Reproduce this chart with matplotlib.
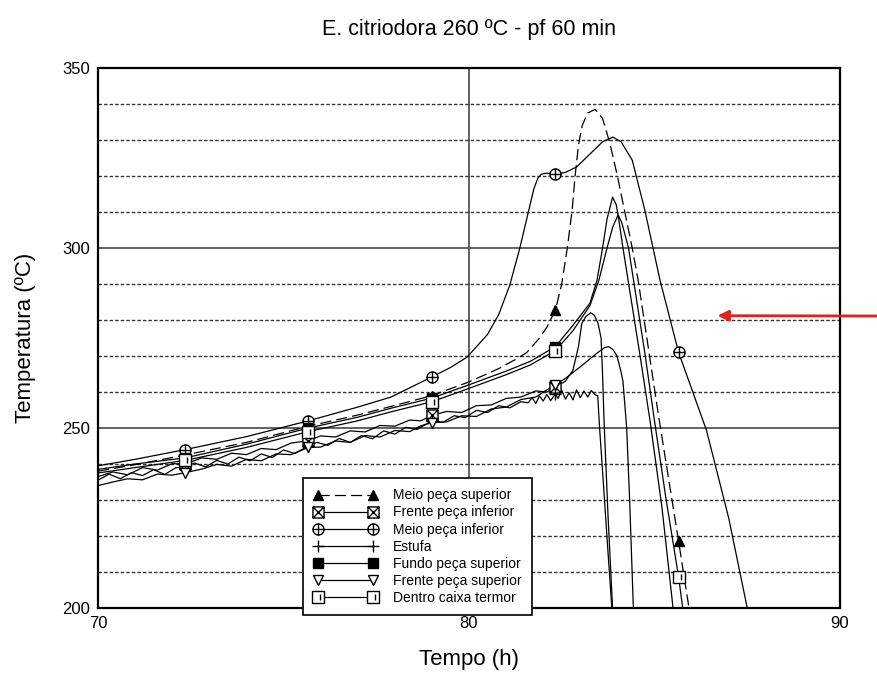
import numpy as np
import matplotlib
matplotlib.use('Agg')
import matplotlib.pyplot as plt
from matplotlib.path import Path
from matplotlib.lines import Line2D

plt.rcParams['font.family'] = ['Liberation Sans', 'DejaVu Sans']

TITLE = "E. citriodora 260 ºC - pf 60 min"
XLABEL = "Tempo (h)"
YLABEL = "Temperatura (ºC)"
X_TICKS = [70, 80, 90]
Y_TICKS = [200, 250, 300, 350]
MARK_H = [72.35, 75.67, 79.0, 82.33, 85.65]

# Meio peça superior (dashed, filled triangle)
meio_sup_h = [70.0, 71.0, 72.35, 74.0, 75.67, 77.0, 77.9, 79.0, 80.0, 80.8, 81.3, 81.56, 81.9, 82.1,
              82.33, 82.5, 82.65, 82.78, 82.86, 82.95, 83.05, 83.2, 83.4, 83.6, 83.8, 84.0, 84.2, 84.4,
              84.56, 85.1, 85.65, 85.93]
meio_sup_t = [238.0, 239.8, 242.5, 246.0, 250.5, 253.6, 256.0, 259.0, 262.8, 266.5, 269.3, 271.0, 275.0,
              278.0, 282.8, 290.0, 300.0, 310.5, 320.0, 328.5, 334.0, 337.5, 338.5, 336.0, 329.0, 320.0,
              310.0, 300.0, 291.0, 254.0, 218.5, 200.0]

# Frente peça inferior (box with X)
frente_inf_h = [70.0, 70.4, 70.8, 71.2, 71.6, 72.0, 72.35, 72.8, 73.2, 73.6, 74.0, 74.4, 74.8, 75.2,
                75.67, 76.0, 76.4, 76.8, 77.2, 77.6, 78.0, 78.4, 78.7, 79.0, 79.4, 79.8, 80.2, 80.6,
                81.0, 81.4, 81.8, 82.1, 82.33, 82.6, 82.8, 82.95, 83.04, 83.15, 83.28, 83.38, 83.48,
                83.56, 83.6, 83.64, 83.75, 83.87]
frente_inf_t = [236.5, 237.8, 237.0, 239.0, 238.3, 240.1, 240.0, 241.7, 241.3, 243.0, 242.6, 244.3,
                244.0, 245.8, 246.5, 247.8, 247.5, 249.2, 248.9, 250.7, 250.5, 252.2, 252.0, 253.5,
                254.6, 254.3, 256.2, 256.4, 258.2, 258.6, 260.3, 260.0, 261.4, 263.0, 266.0, 272.6,
                279.0, 281.0, 282.0, 281.3, 279.0, 275.0, 265.0, 252.0, 225.0, 200.0]

# Meio peça inferior (circle with cross)
meio_inf_h = [70.0, 71.0, 72.35, 74.0, 75.67, 77.0, 77.9, 79.0, 79.5, 79.95, 80.5, 80.8, 81.1, 81.37,
              81.6, 81.75, 81.86, 81.95, 82.1, 82.33, 82.6, 82.9, 83.3, 83.6, 83.88, 84.1, 84.4, 84.74,
              84.96, 85.15, 85.65, 86.4, 87.0, 87.5]
meio_inf_t = [239.5, 241.3, 244.0, 247.6, 252.0, 255.8, 258.6, 264.2, 266.8, 269.7, 276.0, 281.5, 289.7,
              300.0, 310.0, 316.5, 319.5, 320.5, 320.8, 320.5, 321.0, 322.5, 326.5, 329.5, 330.8, 329.5,
              324.4, 310.5, 300.0, 291.0, 271.0, 249.4, 225.0, 200.0]

# Estufa (plus)
estufa_h = [70.0, 70.3, 70.6, 70.9, 71.2, 71.5, 71.8, 72.1, 72.35, 72.6, 72.9, 73.2, 73.5, 73.8, 74.1,
            74.4, 74.7, 75.0, 75.3, 75.67, 75.9, 76.2, 76.5, 76.8, 77.1, 77.4, 77.7, 78.0, 78.3, 78.6,
            79.0, 79.3, 79.6, 79.9, 80.2, 80.5, 80.8, 81.1, 81.4, 81.6, 81.7, 81.8, 81.9, 82.0, 82.1,
            82.2, 82.33, 82.4, 82.5, 82.6, 82.7, 82.8, 82.9, 83.0, 83.1, 83.2, 83.3, 83.4, 83.47,
            83.52, 83.62, 83.75, 83.85]
estufa_t = [235.5, 237.2, 235.9, 237.6, 236.8, 238.4, 237.1, 239.0, 239.0, 240.3, 239.2, 241.0, 240.0,
            241.9, 240.9, 242.8, 241.8, 243.9, 242.9, 245.0, 246.0, 245.2, 247.1, 246.0, 247.9, 247.0,
            249.2, 248.3, 250.2, 249.6, 252.0, 251.6, 253.4, 252.9, 254.9, 254.3, 256.2, 255.6, 257.3,
            257.0, 258.5, 256.8, 258.9, 257.5, 259.3, 257.6, 259.5, 258.2, 260.5, 258.0, 259.8, 257.8,
            260.6, 258.4, 260.3, 258.6, 260.4, 259.2, 259.0, 250.0, 235.0, 215.0, 200.0]

# Fundo peça superior (filled square)
fundo_sup_h = [70.0, 71.0, 72.35, 74.0, 75.67, 77.0, 77.9, 79.0, 80.0, 81.0, 81.65, 82.33, 82.8, 83.26,
               83.45, 83.6, 83.72, 83.87, 83.97, 84.05, 84.15, 84.6, 84.88, 85.2, 85.5]
fundo_sup_t = [238.5, 240.0, 241.7, 245.5, 250.0, 253.0, 255.5, 258.3, 262.0, 265.8, 268.5, 272.6, 278.5,
               284.7, 291.0, 300.0, 308.0, 314.1, 312.0, 307.0, 300.0, 270.8, 252.0, 228.0, 200.0]

# Frente peça superior (open down triangle)
frente_sup_h = [70.0, 70.4, 70.8, 71.2, 71.6, 72.0, 72.35, 72.8, 73.2, 73.6, 74.0, 74.4, 74.8, 75.2,
                75.67, 76.0, 76.4, 76.8, 77.2, 77.6, 78.0, 78.4, 78.7, 79.0, 79.4, 79.8, 80.2, 80.6,
                81.0, 81.4, 81.8, 82.1, 82.33, 82.6, 83.0, 83.45, 83.65, 83.76, 83.88, 83.99, 84.1,
                84.15, 84.25, 84.33, 84.43]
frente_sup_t = [234.0, 235.0, 235.9, 235.6, 237.2, 236.9, 237.6, 238.6, 239.9, 239.4, 241.3, 240.9,
                242.8, 242.6, 244.6, 244.7, 246.4, 246.0, 247.9, 247.5, 249.3, 249.0, 250.6, 251.5,
                251.7, 253.4, 253.2, 255.3, 255.8, 257.9, 258.6, 260.6, 262.0, 263.8, 267.0, 270.8,
                272.3, 272.6, 271.8, 270.0, 265.5, 263.0, 250.0, 230.0, 200.0]

# Dentro caixa termor (box with inner bar)
caixa_h = [70.0, 71.0, 72.35, 74.0, 75.67, 77.0, 77.9, 79.0, 80.0, 81.0, 81.65, 82.33, 82.8, 83.26,
           83.5, 83.72, 83.88, 84.02, 84.12, 84.3, 84.74, 85.0, 85.3, 85.65, 85.76]
caixa_t = [237.5, 239.0, 241.0, 244.6, 249.0, 252.0, 254.5, 257.3, 261.0, 264.8, 267.5, 271.5, 277.0,
           284.0, 291.0, 300.0, 306.0, 309.2, 307.0, 300.0, 270.8, 252.0, 231.0, 208.6, 200.0]

# ---- custom marker shapes ----
M, L, C = Path.MOVETO, Path.LINETO, Path.CLOSEPOLY
sq = [(-1, -1), (1, -1), (1, 1), (-1, 1), (-1, -1)]
box_x = Path(sq + [(-1, -1), (1, 1), (-1, 1), (1, -1)], [M, L, L, L, C, M, L, M, L])
box_bar = Path(sq + [(0.35, -0.55), (0.35, 0.55)], [M, L, L, L, C, M, L])
circ_plus = Path.make_compound_path(Path.unit_circle(), Path([(-1, 0), (1, 0)]), Path([(0, -1), (0, 1)]))

series = [
    ("Meio peça superior", meio_sup_h, meio_sup_t, dict(marker='^', ms=7, mfc='black', ls=(0, (9, 4)))),
    ("Frente peça inferior", frente_inf_h, frente_inf_t, dict(marker=box_x, ms=8, mfc='white', ls='-')),
    ("Meio peça inferior", meio_inf_h, meio_inf_t, dict(marker=circ_plus, ms=8, mfc='white', ls='-')),
    ("Estufa", estufa_h, estufa_t, dict(marker='+', ms=9, mfc='black', ls='-')),
    ("Fundo peça superior", fundo_sup_h, fundo_sup_t, dict(marker='s', ms=7, mfc='black', ls='-')),
    ("Frente peça superior", frente_sup_h, frente_sup_t, dict(marker='v', ms=7, mfc='white', ls='-')),
    ("Dentro caixa termor", caixa_h, caixa_t, dict(marker=box_bar, ms=8, mfc='white', ls='-')),
]

W, H = 877, 681
fig = plt.figure(figsize=(W / 100, H / 100), dpi=100)
ax = fig.add_axes([98 / W, 1 - 608 / H, (840 - 98) / W, (608 - 68) / H])

handles = []
for label, hs, ts, st in series:
    idx = [i for i, h in enumerate(hs) if any(abs(h - m) < 1e-6 for m in MARK_H)]
    ax.plot(hs, ts, color='black', lw=0.9, ls=st['ls'], zorder=3)
    ax.plot([hs[i] for i in idx], [ts[i] for i in idx], ls='none', marker=st['marker'],
            ms=st['ms'], mfc=st['mfc'], mec='black', mew=1.0, zorder=4)
    handles.append(Line2D([0], [0], color='black', lw=0.9, ls=st['ls'], marker=st['marker'],
                          ms=st['ms'], mfc=st['mfc'], mec='black', mew=1.0, label=label))

ax.set_xlim(70, 90)
ax.set_ylim(200, 350)
ax.set_xticks(X_TICKS)
ax.set_yticks(Y_TICKS)
ax.set_yticks(np.arange(200, 351, 10), minor=True)
ax.tick_params(which='both', length=0, labelsize=12, pad=6)
ax.set_axisbelow(True)
ax.grid(which='major', color='#555555', lw=1.3, ls='-')
ax.grid(which='minor', axis='y', color='#333333', lw=1.0, ls=(0, (2.5, 1.5)))
for s in ax.spines.values():
    s.set_linewidth(1.6)
    s.set_color('black')

fig.text(469 / W, 1 - 30 / H, TITLE, ha='center', va='center', fontsize=15.5)
fig.text(469 / W, 1 - 660 / H, XLABEL, ha='center', va='center', fontsize=16)
fig.text(26 / W, 1 - 338 / H, YLABEL, ha='center', va='center', rotation=90, fontsize=16)

leg = fig.legend(handles=handles, loc='upper left', bbox_to_anchor=(303 / W, 1 - 478 / H),
                 bbox_transform=fig.transFigure, borderaxespad=0, fontsize=10, numpoints=2,
                 handlelength=4.6, handletextpad=1.1, labelspacing=0.22, borderpad=0.75,
                 fancybox=False, framealpha=1, edgecolor='black')
leg.get_frame().set_linewidth(1.2)
leg.set_zorder(10)

ax.annotate('', xy=(86.7, 281.2), xycoords='data', xytext=(1.0, 1 - 316 / H),
            textcoords='figure fraction', annotation_clip=False,
            arrowprops=dict(arrowstyle='-|>', color='#e3211c', lw=2, mutation_scale=16,
                            shrinkA=0, shrinkB=0))

fig.savefig('out.png', dpi=100)
